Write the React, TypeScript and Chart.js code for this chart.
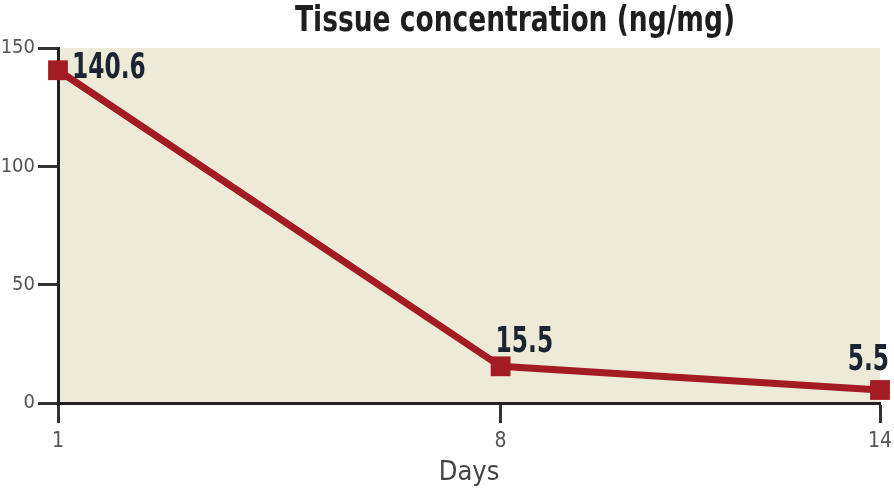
import React, { useEffect, useRef } from "react";
import { Chart, registerables } from "chart.js";

Chart.register(...registerables);

const days = [1, 8, 14];
const concentration = [140.6, 15.5, 5.5];
const valueLabels = ["140.6", "15.5", "5.5"];
const yTicks = [0, 50, 100, 150];
const xTicks = [1, 8, 14];
const titleText = "Tissue concentration (ng/mg)";
const xTitle = "Days";

const NARROW = "'DejaVu Sans Condensed', 'DejaVu Sans', sans-serif";

const bgPlugin = {
  id: "plotBg",
  beforeDraw(chart: any) {
    const { ctx, chartArea } = chart;
    ctx.save();
    ctx.fillStyle = "#edead7";
    ctx.fillRect(chartArea.left, chartArea.top, chartArea.right - chartArea.left, chartArea.bottom - chartArea.top);
    ctx.restore();
  },
};

const titlePlugin = {
  id: "customTitle",
  afterDraw(chart: any) {
    const { ctx } = chart;
    ctx.save();
    ctx.font = `bold 35px ${NARROW}`;
    ctx.fillStyle = "#1e1e1e";
    ctx.textAlign = "center";
    ctx.textBaseline = "alphabetic";
    ctx.fillText(titleText, 515, 31, 440);
    ctx.restore();
  },
};

function drawNarrow(ctx: any, text: string, x: number, y: number, align: string, sx: number) {
  ctx.save();
  ctx.translate(x, y);
  ctx.scale(sx, 1);
  ctx.textAlign = align;
  ctx.fillText(text, 0, 0);
  ctx.restore();
}

const labelPlugin = {
  id: "valueLabels",
  afterDatasetsDraw(chart: any) {
    const { ctx } = chart;
    const meta = chart.getDatasetMeta(0);
    ctx.save();
    ctx.font = `bold 36px ${NARROW}`;
    ctx.fillStyle = "#1c2433";
    ctx.textBaseline = "alphabetic";
    const sx = 0.72;
    meta.data.forEach((pt: any, i: number) => {
      const text = valueLabels[i];
      if (i === 0) {
        drawNarrow(ctx, text, pt.x + 14, pt.y + 8, "left", sx);
      } else if (i === meta.data.length - 1) {
        drawNarrow(ctx, text, pt.x + 9, pt.y - 20, "right", sx);
      } else {
        drawNarrow(ctx, text, pt.x - 5, pt.y - 14, "left", sx);
      }
    });
    ctx.restore();
  },
};

export default function App() {
  const canvasRef = useRef<HTMLCanvasElement | null>(null);

  useEffect(() => {
    const canvas = canvasRef.current;
    if (!canvas) return;
    const chart = new Chart(canvas, {
      type: "line",
      data: {
        datasets: [
          {
            data: days.map((d, i) => ({ x: d, y: concentration[i] })),
            borderColor: "#a31b23",
            backgroundColor: "#a31b23",
            borderWidth: 7,
            pointStyle: "rect",
            pointRadius: 14,
            pointHoverRadius: 14,
            pointBorderWidth: 0,
            tension: 0,
            clip: false as any,
          },
        ],
      },
      options: {
        animation: false,
        responsive: false,
        maintainAspectRatio: false,
        layout: { padding: { top: 48, right: 14, bottom: 0, left: 0 } },
        plugins: {
          legend: { display: false },
          tooltip: { enabled: false },
          title: { display: false },
        },
        scales: {
          x: {
            type: "linear",
            min: xTicks[0],
            max: xTicks[xTicks.length - 1],
            afterBuildTicks: (scale: any) => {
              scale.ticks = xTicks.map((v) => ({ value: v }));
            },
            afterFit: (scale: any) => {
              scale.height = 90;
              scale.paddingLeft = 0;
              scale.paddingRight = 0;
            },
            grid: {
              display: true,
              drawOnChartArea: false,
              drawTicks: true,
              tickLength: 20,
              tickWidth: 3,
              tickColor: "#333",
            },
            border: { display: true, color: "#222", width: 3 },
            ticks: {
              autoSkip: false,
              maxRotation: 0,
              padding: 6,
              color: "#555",
              font: { family: NARROW, size: 21 },
            },
            title: {
              display: true,
              text: xTitle,
              color: "#444",
              font: { family: NARROW, size: 27 },
              padding: { top: 0, bottom: 4 },
            },
          },
          y: {
            min: yTicks[0],
            max: yTicks[yTicks.length - 1],
            afterBuildTicks: (scale: any) => {
              scale.ticks = yTicks.map((v) => ({ value: v }));
            },
            afterFit: (scale: any) => {
              scale.width = 58;
              scale.paddingTop = 0;
              scale.paddingBottom = 0;
            },
            grid: {
              display: true,
              drawOnChartArea: false,
              drawTicks: true,
              tickLength: 20,
              tickWidth: 3,
              tickColor: "#333",
            },
            border: { display: true, color: "#222", width: 3 },
            ticks: {
              padding: 3,
              color: "#555",
              font: { family: NARROW, size: 20 },
            },
          },
        },
      },
      plugins: [bgPlugin, titlePlugin, labelPlugin],
    });
    return () => chart.destroy();
  }, []);

  return (
    <div style={{ position: "absolute", left: 0, top: 0, width: 894, height: 493, background: "#fff" }}>
      <canvas ref={canvasRef} width={894} height={493} style={{ display: "block" }} />
    </div>
  );
}
